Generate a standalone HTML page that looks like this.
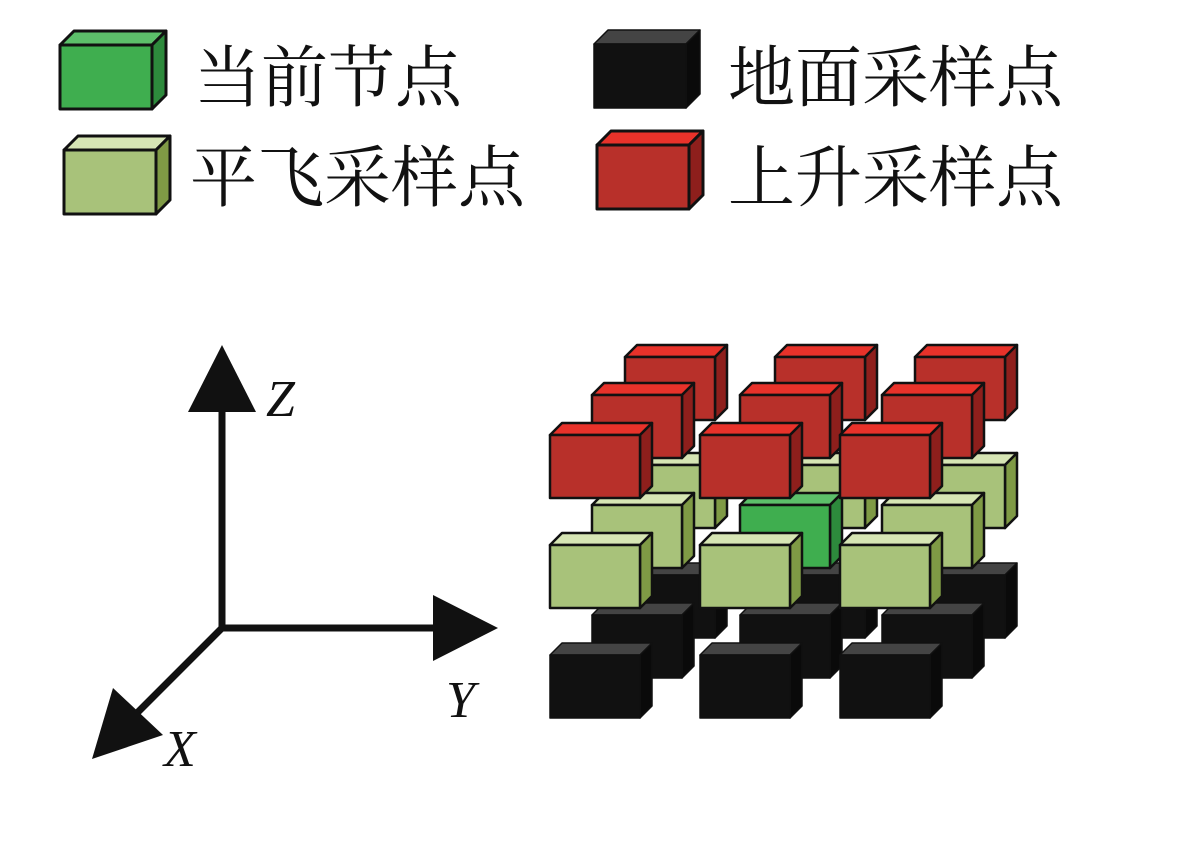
<!DOCTYPE html>
<html><head><meta charset="utf-8"><style>
html,body{margin:0;padding:0;background:#fff;}
svg{display:block;}
</style></head><body>
<svg width="1181" height="846" viewBox="0 0 1181 846" xmlns="http://www.w3.org/2000/svg">
<rect width="1181" height="846" fill="#fff"/>
<defs>
<g id="red" stroke="#111" stroke-width="2.5" stroke-linejoin="round">
<polygon points="0,0 12,-12 102,-12 90,0" fill="#e8322a"/>
<polygon points="90,0 102,-12 102,51 90,63" fill="#8e1f1c"/>
<rect x="0" y="0" width="90" height="63" fill="#b8302a"/>
</g>
<g id="lg" stroke="#111" stroke-width="2.5" stroke-linejoin="round">
<polygon points="0,0 12,-12 102,-12 90,0" fill="#d6e5b4"/>
<polygon points="90,0 102,-12 102,51 90,63" fill="#7f9a45"/>
<rect x="0" y="0" width="90" height="63" fill="#a8c27a"/>
</g>
<g id="dg" stroke="#111" stroke-width="2.5" stroke-linejoin="round">
<polygon points="0,0 12,-12 102,-12 90,0" fill="#5cbf6a"/>
<polygon points="90,0 102,-12 102,51 90,63" fill="#2d8a3c"/>
<rect x="0" y="0" width="90" height="63" fill="#3fae4f"/>
</g>
<g id="blk" stroke="#111" stroke-width="1.5" stroke-linejoin="round">
<polygon points="0,0 12,-12 102,-12 90,0" fill="#444"/>
<polygon points="90,0 102,-12 102,51 90,63" fill="#0a0a0a"/>
<rect x="0" y="0" width="90" height="63" fill="#111"/>
</g>
<g id="L" stroke="#111" stroke-width="3" stroke-linejoin="round">
<polygon points="0,0 14,-14 106,-14 92,0"/>
<polygon points="92,0 106,-14 106,50 92,64"/>
<rect x="0" y="0" width="92" height="64"/>
</g>
</defs>

<!-- legend -->
<g stroke="#111" stroke-width="3" stroke-linejoin="round">
<g transform="translate(60,45)">
<polygon points="0,0 14,-14 106,-14 92,0" fill="#5cbf6a"/>
<polygon points="92,0 106,-14 106,50 92,64" fill="#2d8a3c"/>
<rect x="0" y="0" width="92" height="64" fill="#3fae4f"/>
</g>
<g transform="translate(64,150)">
<polygon points="0,0 14,-14 106,-14 92,0" fill="#d6e5b4"/>
<polygon points="92,0 106,-14 106,50 92,64" fill="#7f9a45"/>
<rect x="0" y="0" width="92" height="64" fill="#a8c27a"/>
</g>
<g transform="translate(594,44)" stroke-width="1.5">
<polygon points="0,0 14,-14 106,-14 92,0" fill="#444"/>
<polygon points="92,0 106,-14 106,50 92,64" fill="#0a0a0a"/>
<rect x="0" y="0" width="92" height="64" fill="#111"/>
</g>
<g transform="translate(597,145)">
<polygon points="0,0 14,-14 106,-14 92,0" fill="#e8322a"/>
<polygon points="92,0 106,-14 106,50 92,64" fill="#8e1f1c"/>
<rect x="0" y="0" width="92" height="64" fill="#b8302a"/>
</g>
</g>
<g font-family="'Liberation Serif','Noto Serif CJK SC',serif" font-size="67" fill="#111">
<text x="194" y="101">当前节点</text>
<text x="190" y="201">平飞采样点</text>
<text x="728" y="101">地面采样点</text>
<text x="728" y="201">上升采样点</text>
</g>

<!-- back row -->
<use href="#blk" x="625" y="575"/><use href="#blk" x="775" y="575"/><use href="#blk" x="915" y="575"/>
<use href="#lg" x="625" y="465"/><use href="#lg" x="775" y="465"/><use href="#lg" x="915" y="465"/>
<use href="#red" x="625" y="357"/><use href="#red" x="775" y="357"/><use href="#red" x="915" y="357"/>
<!-- middle row -->
<use href="#blk" x="592" y="615"/><use href="#blk" x="740" y="615"/><use href="#blk" x="882" y="615"/>
<use href="#lg" x="592" y="505"/><use href="#dg" x="740" y="505"/><use href="#lg" x="882" y="505"/>
<use href="#red" x="592" y="395"/><use href="#red" x="740" y="395"/><use href="#red" x="882" y="395"/>
<!-- front row -->
<use href="#blk" x="550" y="655"/><use href="#blk" x="700" y="655"/><use href="#blk" x="840" y="655"/>
<use href="#lg" x="550" y="545"/><use href="#lg" x="700" y="545"/><use href="#lg" x="840" y="545"/>
<use href="#red" x="550" y="435"/><use href="#red" x="700" y="435"/><use href="#red" x="840" y="435"/>

<!-- axes -->
<g stroke="#111" stroke-width="7" fill="none" stroke-linecap="square">
<line x1="222" y1="628" x2="222" y2="405"/>
<line x1="222" y1="628" x2="440" y2="628"/>
<line x1="222" y1="628" x2="135" y2="715"/>
</g>
<g fill="#111">
<polygon points="222,345 188,412 256,412"/>
<polygon points="498,628 433,595 433,661"/>
<polygon points="92,759 113,688 163,735"/>
</g>
<g font-family="'Liberation Serif',serif" font-style="italic" font-size="52" fill="#111">
<text x="266" y="416">Z</text>
<text x="446" y="717">Y</text>
<text x="164" y="766">X</text>
</g>
</svg>
</body></html>
